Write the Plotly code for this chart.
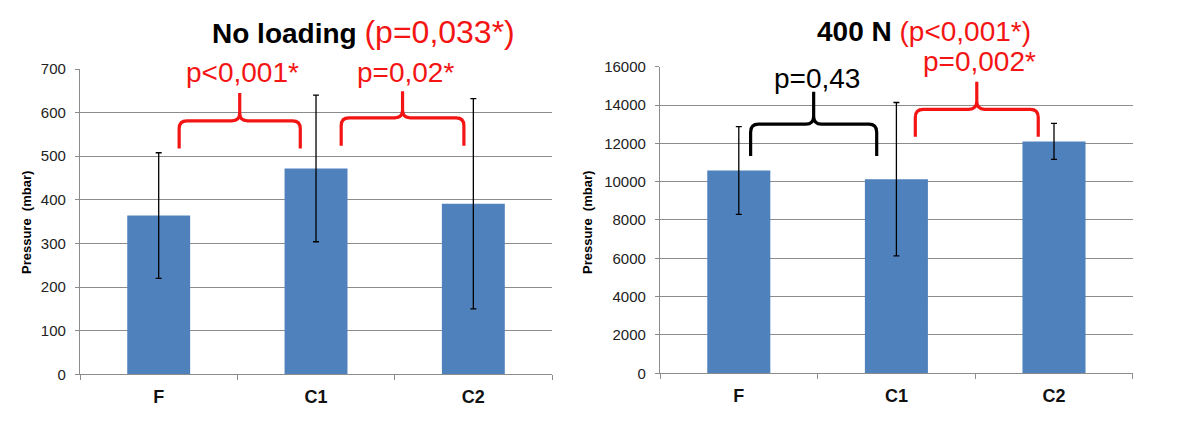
import plotly.graph_objects as go

# data
groups = ["F", "C1", "C2"]

noload_mean = [364, 472, 391]
noload_sd = [144, 168, 241]

load400_mean = [10580, 10130, 12100]
load400_sd = [2290, 4000, 940]

noload_title = "No loading"
noload_p = "(p=0,033*)"
load400_title = "400 N"
load400_p = "(p<0,001*)"

# brace labels: (left group, right group, text, colour)
noload_pairs = [(0, 1, "p<0,001*", "red"), (1, 2, "p=0,02*", "red")]
load400_pairs = [(0, 1, "p=0,43", "black"), (1, 2, "p=0,002*", "red")]

FONT = "Arial, Liberation Sans, sans-serif"
BLUE = "#4f81bd"
GRID = "#8c8c8c"
RED = "#f31414"

W, H = 1200, 447
xdom1 = [0.0667, 0.46]
xdom2 = [0.55, 0.944]
ydom1 = [0.1626, 0.8456]
ydom2 = [0.1649, 0.8508]
yr1 = [0, 700]
yr2 = [0, 16000]


def brace(x0, x1, xm, yb, yh, yp, rx, ry):
    # curly brace opening downwards, drawn in data units
    return (f"M {x0},{yb} L {x0},{yh - ry} Q {x0},{yh} {x0 + rx},{yh} "
            f"L {xm - rx},{yh} Q {xm},{yh} {xm},{yh + ry} L {xm},{yp} "
            f"M {xm},{yh + ry} Q {xm},{yh} {xm + rx},{yh} "
            f"L {x1 - rx},{yh} Q {x1},{yh} {x1},{yh - ry}  L {x1},{yb}")


fig = go.Figure()

fig.add_trace(go.Bar(
    x=list(range(len(groups))), y=noload_mean, width=0.4,
    marker=dict(color=BLUE, line=dict(width=0)),
    error_y=dict(type="data", array=noload_sd, visible=True,
                 color="black", thickness=1.3, width=3),
    xaxis="x", yaxis="y"))

fig.add_trace(go.Bar(
    x=list(range(len(groups))), y=load400_mean, width=0.4,
    marker=dict(color=BLUE, line=dict(width=0)),
    error_y=dict(type="data", array=load400_sd, visible=True,
                 color="black", thickness=1.3, width=3),
    xaxis="x2", yaxis="y2"))

xcommon = dict(range=[-0.5, 2.5], tickvals=list(range(len(groups))), ticktext=groups,
               ticks="", showgrid=False, zeroline=False, showline=True,
               linecolor=GRID, linewidth=1.3,
               tickfont=dict(family=FONT, size=18, color="#111", weight="bold"),
               ticklabelstandoff=6,
               minor=dict(tickvals=[-0.5, 0.5, 1.5, 2.5], ticks="outside",
                          ticklen=5, tickcolor=GRID, tickwidth=1.3, showgrid=False))
ycommon = dict(showgrid=True, gridcolor=GRID, gridwidth=1.2, zeroline=False,
               showline=True, linecolor=GRID, linewidth=1.3, ticks="outside",
               ticklen=4, tickcolor=GRID, ticklabelstandoff=6, tickformat="d",
               tickfont=dict(family=FONT, size=15, color="#222"))

fig.update_layout(
    width=W, height=H, margin=dict(l=0, r=0, t=0, b=0, autoexpand=False),
    paper_bgcolor="white", plot_bgcolor="white", showlegend=False,
    xaxis=dict(domain=xdom1, anchor="y", **xcommon),
    yaxis=dict(domain=ydom1, anchor="x", range=yr1, dtick=100, **ycommon),
    xaxis2=dict(domain=xdom2, anchor="y2", **xcommon),
    yaxis2=dict(domain=ydom2, anchor="x2", range=yr2, dtick=2000, **ycommon),
)

# braces and p-values; positions relative to the groups and value scale
brace_geo1 = [  # x0 offset, x1 offset, yb, yh, yp, label shift px
    (0.13, -0.10, 518, 581, 645, 21),
    (0.16, -0.06, 524, 588, 649, 19),
]
brace_geo2 = [
    (0.075, -0.125, 11340, 13000, 14690, 13),
    (0.12, -0.10, 12340, 13770, 15210, 20),
]

for (pairs, geo, xr, yr, rx, ry) in [
        (noload_pairs, brace_geo1, "x", "y", 0.05, 18),
        (load400_pairs, brace_geo2, "x2", "y2", 0.05, 420)]:
    for (a, b, txt, col), (o0, o1, yb, yh, yp, sh) in zip(pairs, geo):
        x0 = a + o0
        x1 = b + o1
        xm = (x0 + x1) / 2
        c = RED if col == "red" else "black"
        fig.add_shape(type="path", path=brace(x0, x1, xm, yb, yh, yp, rx, ry),
                      xref=xr, yref=yr, line=dict(color=c, width=3.2))
        fig.add_annotation(x=xm + 0.02, y=yp, xref=xr, yref=yr, text=txt,
                           showarrow=False, xanchor="center", yanchor="middle",
                           yshift=sh,
                           font=dict(family=FONT, size=28, color=c))

# panel titles
for xpos, t, p, psize in [(363 / W, noload_title, noload_p, 32),
                          (924 / W, load400_title, load400_p, 28)]:
    fig.add_annotation(
        x=xpos, y=(H - 32) / H, xref="paper", yref="paper", showarrow=False,
        xanchor="center", yanchor="middle",
        text=f"<b>{t}</b> <span style='color:{RED};font-size:{psize}px'>{p}</span>",
        font=dict(family=FONT, size=28, color="black"))

# y axis titles
for xpos in [26 / W, 587 / W]:
    fig.add_annotation(
        x=xpos, y=(H - 223) / H, xref="paper", yref="paper", showarrow=False,
        xanchor="center", yanchor="middle",
        text="<b>Pressure  (mbar)</b>", textangle=-90,
        font=dict(family=FONT, size=13, color="black"))

fig.write_html("out.html", config={"displayModeBar": False},
               post_script="document.body.style.margin='0';document.body.style.overflow='hidden';")
